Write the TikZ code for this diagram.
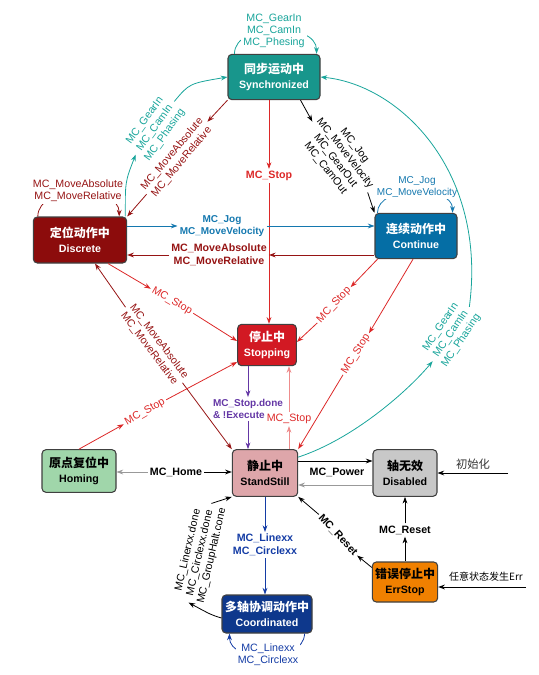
\documentclass[tikz,border=0pt]{standalone}
\usepackage{fontspec}
\setmainfont{Liberation Sans}
\newfontfamily\cjk{Noto Sans CJK SC}
\usetikzlibrary{arrows.meta,calc}

\newcommand\zh[1]{{\cjk\fontsize{9}{11}\selectfont #1}}

\definecolor{synccol}{RGB}{24,150,140}
\definecolor{dcol}{RGB}{140,12,12}
\definecolor{contcol}{RGB}{5,110,165}
\definecolor{stopcol}{RGB}{210,25,35}
\definecolor{homecol}{RGB}{160,214,170}
\definecolor{standcol}{RGB}{222,166,170}
\definecolor{offcol}{RGB}{200,200,200}
\definecolor{errcol}{RGB}{240,128,0}
\definecolor{coordcol}{RGB}{14,56,140}
\definecolor{tealln}{RGB}{25,165,155}
\definecolor{dredln}{RGB}{150,20,20}
\definecolor{redln}{RGB}{220,40,40}
\definecolor{blueln}{RGB}{20,120,175}
\definecolor{purpln}{RGB}{100,55,165}
\definecolor{pinkln}{RGB}{238,140,140}
\definecolor{navyln}{RGB}{20,60,165}

\tikzset{
  state/.style={draw=black!75, line width=0.8pt, rounded corners=3pt, align=center,
    text=white, font=\bfseries\fontsize{8}{11}\selectfont, inner sep=2pt},
  lbl/.style={font=\fontsize{8}{9.2}\selectfont, align=center, inner sep=1.5pt},
  blbl/.style={font=\bfseries\fontsize{8}{9.4}\selectfont, align=center, inner sep=1.5pt},
  conn/.style={line width=0.6pt, -{Stealth[length=5pt,width=3.6pt]}},
}

\begin{document}
\begin{tikzpicture}[x=0.75pt,y=-0.75pt]
  \useasboundingbox (0,0) rectangle (539,675);

  % states
  \node[state, fill=synccol, minimum width=69pt, minimum height=34pt] (sync) at (274,77) {\zh{同步运动中}\\Synchronized};
  \node[state, fill=dcol, minimum width=70pt, minimum height=34.5pt] (discrete) at (80,240) {\zh{定位动作中}\\Discrete};
  \node[state, fill=contcol, minimum width=61.5pt, minimum height=34pt] (continue) at (416,236) {\zh{连续动作中}\\Continue};
  \node[state, fill=stopcol, minimum width=44pt, minimum height=31pt] (stopping) at (267,345) {\zh{停止中}\\Stopping};
  \node[state, fill=homecol, text=black, minimum width=55.5pt, minimum height=32pt] (homing) at (79,471) {\zh{原点复位中}\\Homing};
  \node[state, fill=standcol, text=black, minimum width=49pt, minimum height=35pt] (standstill) at (265,473) {\zh{静止中}\\StandStill};
  \node[state, fill=offcol, text=black, minimum width=48pt, minimum height=35pt] (disabled) at (405,473) {\zh{轴无效}\\Disabled};
  \node[state, fill=errcol, text=black, minimum width=48pt, minimum height=30pt] (errstop) at (405,582) {\zh{错误停止中}\\ErrStop};
  \node[state, fill=coordcol, minimum width=67.5pt, minimum height=28.5pt] (coordinated) at (267,614) {\zh{多轴协调动作中}\\Coordinated};

  % Synchronized
  \draw[conn, tealln] ($(sync.north west)+(7,0)$) .. controls +(0,-32) and +(0,-32) .. ($(sync.north east)+(-4,0)$);
  \node[lbl, text=tealln, fill=white] (syncloop) at (274,31) {MC\_GearIn\\MC\_CamIn\\MC\_Phesing};

  \node[lbl, text=tealln, rotate=54] (gear1) at (155,128) {MC\_GearIn\\MC\_CamIn\\MC\_Phasing};
  \draw[conn, tealln] ($(discrete.north east)+(-2,0)$) .. controls +(0,-35) .. (gear1.west);
  \draw[conn, tealln] (gear1.east) .. controls +(15,-18) .. (sync.west);

  \node[lbl, text=dredln, rotate=50] (move1) at (177,158) {MC\_MoveAbsolute\\MC\_MoveRelative};
  \draw[conn, dredln] (sync.south west) -- (move1.east);
  \draw[conn, dredln] (move1.west) -- (discrete.north east);

  \node[blbl, text=redln] (stop1) at (269,176) {MC\_Stop};
  \draw[conn, redln] (stop1 |- sync.south) -- (stop1.north);
  \draw[conn, redln] (stop1.south) -- (stop1 |- stopping.north);

  \node[lbl, rotate=-52] (jog1) at (340,157) {MC\_Jog\\MC\_MoveVelocity\\MC\_GearOut\\MC\_CamOut};
  \draw[conn] ($(sync.south east)+(-20,0)$) -- (jog1.west);
  \draw[conn] (jog1.east) -- (continue.north west);

  % Discrete
  \draw[conn, dredln] ($(discrete.north west)+(5,0)$) .. controls +(0,-32) and +(0,-32) .. ($(discrete.north east)+(-8,0)$);
  \node[lbl, text=dredln, fill=white] (moveloop) at (78,191) {MC\_MoveAbsolute\\MC\_MoveRelative};

  \node[blbl, text=blueln, font=\bfseries\fontsize{7.5}{9}\selectfont] (jog2) at (222,226) {MC\_Jog\\MC\_MoveVelocity};
  \draw[conn, blueln] (jog2 -| discrete.east) -- (jog2.west);
  \draw[conn, blueln] (jog2.east) -- (jog2 -| continue.west);

  \node[lbl, text=redln, rotate=-30] (stop2) at (172,301) {MC\_Stop};
  \draw[conn, redln] ($(discrete.south)+(28,0)$) -- (stop2.west);
  \draw[conn, redln] (stop2.east) -- ($(stopping.west)+(0,-4)$);

  % Continue
  \draw[conn, blueln] ($(continue.north west)+(3,0)$) .. controls +(0,-28) and +(0,-28) .. ($(continue.north east)+(-5,0)$);
  \node[lbl, text=blueln, fill=white, font=\fontsize{7.5}{8.8}\selectfont] (jogloop) at (417,187) {MC\_Jog\\MC\_MoveVelocity};

  \node[blbl, text=dredln] (move2) at (219,255) {MC\_MoveAbsolute\\MC\_MoveRelative};
  \draw[conn, dredln] (move2 -| continue.west) -- (move2.east);
  \draw[conn, dredln] (move2.west) -- (move2 -| discrete.east);

  \node[lbl, text=redln, rotate=47] (stop5) at (334,305) {MC\_Stop};
  \draw[conn, redln] ($(continue.south west)+(3,0)$) -- (stop5.east);
  \draw[conn, redln] (stop5.west) -- ($(stopping.east)+(0,-3)$);

  \node[lbl, text=redln, rotate=58] (stop6) at (356,354) {MC\_Stop};
  \draw[conn, redln] ($(continue.south)+(-3,0)$) -- (stop6.east);
  \draw[conn, redln] (stop6.west) -- (standstill.north east);

  % StandStill
  \node[lbl, text=dredln, rotate=-53] (move3) at (154,345) {MC\_MoveAbsolute\\MC\_MoveRelative};
  \draw[conn, dredln] (move3.west) -- ($(discrete.south)+(15,0)$);
  \draw[conn, dredln] (move3.east) -- (standstill.north west);

  \node[lbl, text=redln, rotate=30] (stop3) at (145,412) {MC\_Stop};
  \draw[conn, redln] (homing.north) -- (stop3.west);
  \draw[conn, redln] (stop3.east) -- ($(stopping.west)+(0,17)$);

  \node[blbl] (home) at (176,472) {MC\_Home};
  \draw[conn, black!40] (home.west) -- (home -| homing.east);
  \draw[conn] (home.east) -- (home -| standstill.west);

  \node[blbl, text=purpln, align=left, font=\bfseries\fontsize{7.5}{9}\selectfont] (done) at (248,409) {MC\_Stop.done\\\& !Execute};
  \draw[conn, purpln] (done.north |- stopping.south) -- (done.north);
  \draw[conn, purpln] (done.south) -- (done.south |- standstill.north);

  \node[lbl, text=redln] (stop4) at (289,419) {MC\_Stop};
  \draw[conn, pinkln] (stop4.south |- standstill.north) -- (stop4.south);
  \draw[conn, pinkln] (stop4.north) -- (stop4.north |- stopping.south);

  \node[lbl, text=tealln, rotate=56] (gear2) at (451,334) {MC\_GearIn\\MC\_CamIn\\MC\_Phasing};
  \draw[conn, tealln] ($(standstill.north east)+(0,8)$) .. controls +(55,-18) and +(-25,30) .. (gear2.west);
  \draw[conn, tealln] (gear2.east) .. controls +(18,-135) and +(80,8) .. (sync.east);

  \node[blbl] (power) at (337,472) {MC\_Power};
  \draw[conn] ($(standstill.east)+(0,-12)$) -- ($(disabled.west)+(0,-12)$);
  \draw[conn, black!40] ($(disabled.west)+(0,12)$) -- ($(standstill.east)+(0,12)$);

  \node[blbl, text=navyln] (line1) at (265,545) {MC\_Linexx\\MC\_Circlexx};
  \draw[conn, navyln] (line1 |- standstill.south) -- (line1.north);
  \draw[conn, navyln] (line1.south) -- (line1 |- coordinated.north);

  % Disabled, ErrStop
  \coordinate (initin) at (508,473);
  \node[font=\cjk\fontsize{8.5}{9}\selectfont, text=black!80] (initl) at (473,464) {初始化};
  \draw[conn] (initin) -- (initin -| disabled.east);

  \node[blbl] (reset1) at (405,530) {MC\_Reset};
  \draw[conn] (reset1 |- errstop.north) -- (reset1.south);
  \draw[conn] (reset1.north) -- (reset1 |- disabled.south);

  \node[blbl, rotate=-47] (reset2) at (338,535) {MC\_Reset};
  \draw[conn] ($(errstop.north west)+(0,6)$) -- (reset2.east);
  \draw[conn] (reset2.west) -- (standstill.south east);

  \coordinate (errin) at (526,587);
  \node[font=\cjk\fontsize{7.5}{9}\selectfont] (errl) at (486,577) {任意状态发生Err};
  \draw[conn] (errin) -- (errin -| errstop.east);

  % Coordinated
  \node[lbl, rotate=77] (done2) at (200,553) {MC\_Linerxx.done\\MC\_Circlexx.done\\MC\_GroupHalt.cone};
  \draw[conn] ($(coordinated.west)+(0,4)$) .. controls +(-10,-3) .. (done2.west);
  \draw[conn] (done2.east) -- (standstill.south west);

  \draw[conn, navyln] ($(coordinated.south east)+(-8,0)$) .. controls +(0,30) and +(0,30) .. ($(coordinated.south west)+(8,0)$);
  \node[lbl, text=navyln, fill=white] (lineloop) at (268,655) {MC\_Linexx\\MC\_Circlexx};
\end{tikzpicture}
\end{document}
